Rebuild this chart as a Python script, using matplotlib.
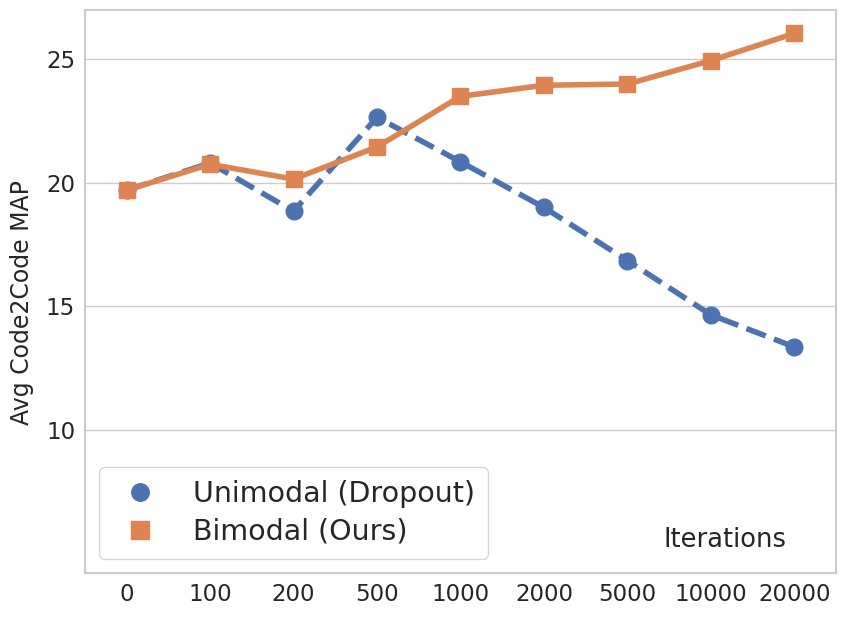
import numpy as np
import matplotlib
matplotlib.use('Agg')
import matplotlib.pyplot as plt
import seaborn as sns

ITERS = ['0', '100', '200', '500', '1000', '2000', '5000', '10000', '20000']
UNIMODAL = [19.7, 20.8, 18.85, 22.65, 20.85, 19.0, 16.85, 14.65, 13.35]
BIMODAL = [19.7, 20.75, 20.15, 21.45, 23.5, 23.95, 24.0, 24.95, 26.05]

sns.set_style('whitegrid')
plt.rcParams['font.family'] = ['DejaVu Sans']

fig = plt.figure(figsize=(8.48, 6.22), dpi=100)
ax = fig.add_axes([0.1, 0.079, 0.886, 0.905])

x = np.arange(len(ITERS))
ax.plot(x, UNIMODAL, '--o', color='#4C72B0', linewidth=4, markersize=12,
        label='Unimodal (Dropout)')
ax.plot(x, BIMODAL, '-s', color='#DD8452', linewidth=4, markersize=12,
        label='Bimodal (Ours)')

ax.set_xticks(x)
ax.set_xticklabels(ITERS, fontsize=16.5)
ax.set_yticks([10, 15, 20, 25])
ax.tick_params(axis='y', labelsize=16.5)
ax.set_xlim(-0.5, len(ITERS) - 0.5)
ax.set_ylim(4.2, 27.0)
ax.grid(axis='x', visible=False)
ax.grid(axis='y', color='#cccccc', linewidth=1)
for s in ax.spines.values():
    s.set_color('#cccccc')
    s.set_linewidth(1.5)

ax.set_ylabel('Avg Code2Code MAP', fontsize=17)
ax.yaxis.set_label_coords(-0.067, 0.48)
ax.text(0.852, 0.059, 'Iterations', transform=ax.transAxes, fontsize=18.5,
        ha='center', va='center', color='#262626')

leg = ax.legend(loc='lower left', fontsize=20.5, borderpad=0.45, handletextpad=0.85,
                labelspacing=0.35, markerscale=1.05, frameon=True)
for h in leg.legend_handles:
    h.set_linestyle('none')

fig.savefig('out.png', dpi=100)
